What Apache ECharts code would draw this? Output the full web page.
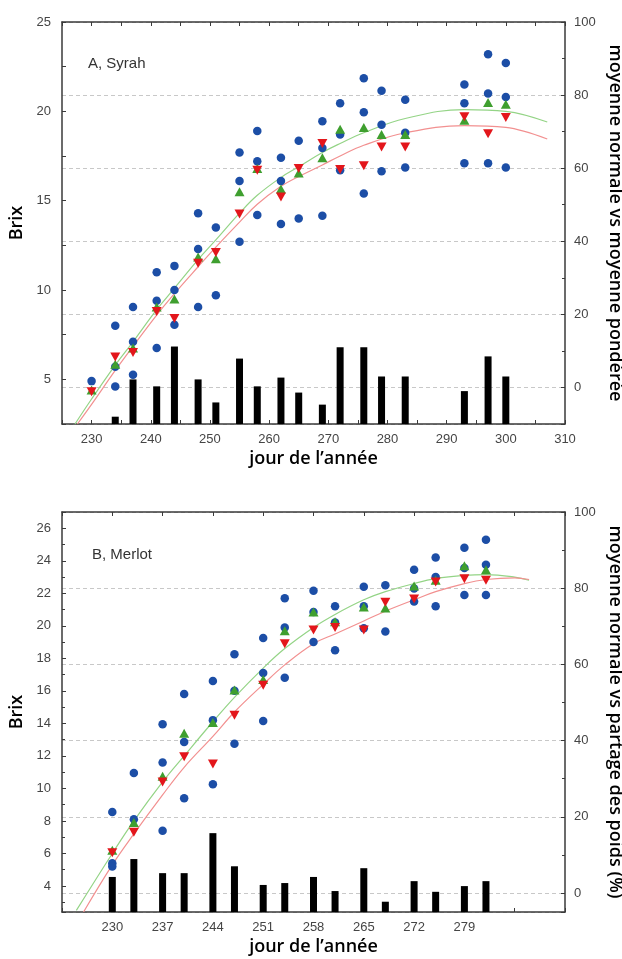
<!DOCTYPE html>
<html><head><meta charset="utf-8">
<script src="https://cdn.jsdelivr.net/npm/echarts@6/dist/echarts.min.js"></script>
<style>html,body{margin:0;padding:0;background:#fff}#c{width:622px;height:959px}</style>
</head><body><div id="c"></div><script>
// ---------- A, Syrah ----------
const syrahDays = [230,234,237,241,244,248,251,255,258,262,265,269,272,276,279,283,293,297,300];
const syrahBlueHigh = [4.9,8.0,9.05,11.0,11.35,14.3,13.5,17.7,18.9,17.4,18.35,19.45,20.45,21.85,21.15,20.65,21.5,23.2,22.7];
const syrahBlueMid = [null,5.7,7.1,9.4,10.0,12.3,null,16.1,17.2,16.1,null,17.95,18.7,19.95,19.25,18.8,20.45,21.0,20.8];
const syrahBlueLow = [null,4.6,5.25,6.75,8.05,9.05,9.7,12.7,14.2,13.7,14.0,14.15,16.7,15.4,16.65,16.85,17.1,17.1,16.85];
const syrahNormal = [4.4,5.85,6.75,9.05,9.5,11.85,11.75,15.5,16.8,15.65,16.55,17.4,19.0,19.1,18.7,18.7,19.5,20.5,20.4];
const syrahWeighted = [4.3,6.25,6.5,8.8,8.4,11.5,12.1,14.25,16.7,15.2,16.8,18.2,16.75,16.95,18.0,18.0,19.7,18.75,19.65];
const syrahBarDays = [234,237,241,244,248,251,255,258,262,265,269,272,276,279,283,293,297,300];
const syrahBars = [-8,2.2,0.3,11.2,2.2,-4.1,7.9,0.3,2.7,-1.4,-4.7,11,11,3,3,-1,8.5,3];
const syrahNormalFitDays = [227.2,230,234,237,241,244,248,251,255,258,262,265,269,272,276,283,293,300,307];
const syrahNormalFit = [2.5,3.9,5.8,7.1,8.9,10.1,11.7,12.8,14.3,15.3,16.3,16.9,17.7,18.2,18.8,19.6,20.1,20.0,19.4];
const syrahWeightedFitDays = [227.6,230,234,237,241,244,248,251,255,258,262,265,269,272,276,283,293,300,307];
const syrahWeightedFit = [2.5,3.6,5.5,6.85,8.6,9.8,11.3,12.4,13.8,14.8,15.8,16.35,17.0,17.5,18.1,18.8,19.2,19.1,18.45];
const syrahXLabels = [230,240,250,260,270,280,290,300,310];
const syrahBrixLabels = [5,10,15,20,25];
const syrahPctLabels = [0,20,40,60,80,100];

// ---------- B, Merlot ----------
const merlotDays = [230,233,237,240,244,247,251,254,258,261,265,268,272,275,279,282];
const merlotBlueHigh = [8.55,10.95,13.95,15.8,16.6,18.25,19.25,21.7,22.15,21.2,22.4,22.5,23.45,24.2,24.8,25.3];
const merlotBlueMid = [5.4,8.1,11.6,12.85,14.2,16.0,17.1,19.9,20.85,20.2,21.2,null,22.3,23.0,23.55,23.75];
const merlotBlueLow = [5.2,null,7.4,9.4,10.25,12.75,14.15,16.8,19.0,18.5,19.85,19.65,21.5,21.2,21.9,21.9];
const merlotNormal = [6.2,7.9,10.75,13.4,14.05,16.05,16.7,19.7,20.85,20.25,21.15,21.1,22.45,22.8,23.7,23.45];
const merlotWeighted = [6.05,7.3,10.4,11.95,11.5,14.5,16.35,18.9,19.75,19.9,19.75,21.45,21.65,22.7,22.9,22.8];
const merlotBars = [4.2,8.9,5.2,5.2,15.7,7.0,2.1,2.6,4.2,0.5,6.5,-2.3,3.1,0.3,1.8,3.1];
const merlotNormalFitDays = [225,230,233,237,240,244,247,251,254,258,261,265,268,272,275,279,282,286,288];
const merlotNormalFit = [2.5,6.0,8.0,10.4,12.0,14.1,15.6,17.4,18.6,19.9,20.7,21.6,22.1,22.6,22.9,23.1,23.15,23.0,22.8];
const merlotWeightedFitDays = [226,230,233,237,240,244,247,251,254,258,261,265,268,272,275,279,282,286,288];
const merlotWeightedFit = [2.4,5.3,7.2,9.6,11.3,13.2,14.7,16.4,17.6,18.9,19.5,20.3,20.9,21.6,22.1,22.6,22.85,22.95,22.85];
const merlotXLabels = [230,237,244,251,258,265,272,279];
const merlotBrixLabels = [4,6,8,10,12,14,16,18,20,22,24,26];
const merlotPctLabels = [0,20,40,60,80,100];

// ---------- helpers ----------
const AX = '#3a3a3a';
const LBL = {color:'#454545', fontSize:13, fontFamily:'Liberation Sans'};
const NAME = {color:'#000', fontSize:18, fontWeight:600, fontFamily:'Open Sans'};
const pairs = (xs, ys) => xs.map((x,i)=>[x, ys[i]]).filter(p => p[1] !== null && p[1] !== undefined);
const pick = list => v => list.some(l => Math.abs(l - v) < 1e-6) ? String(Math.round(v)) : '';

function xAxesFor(grid, min, max, interval, labels) {
  const common = {type:'value', gridIndex:grid, min, max, interval,
    axisLine:{show:true, onZero:false, lineStyle:{color:AX, width:1.5}},
    axisTick:{show:true, inside:true, length:4, lineStyle:{color:AX}},
    splitLine:{show:false}};
  return [
    Object.assign({}, common, {position:'bottom',
      axisLabel:Object.assign({}, LBL, {margin:9, formatter:pick(labels)}),
      name:'jour de l’année', nameLocation:'middle', nameGap:26, nameTextStyle:NAME}),
    Object.assign({}, common, {position:'top', axisLabel:{show:false}})
  ];
}
function leftAxis(grid, min, max, extra, labels) {
  return Object.assign({type:'value', gridIndex:grid, position:'left', min, max,
    axisLine:{show:true, onZero:false, lineStyle:{color:AX, width:1.5}},
    axisTick:{show:true, inside:true, length:4, lineStyle:{color:AX}},
    axisLabel:Object.assign({}, LBL, {margin:11, formatter:pick(labels)}),
    splitLine:{show:false},
    name:'Brix', nameLocation:'middle', nameGap:29, nameRotate:90, nameTextStyle:NAME}, extra);
}
function rightAxis(grid, min, max, labels, name) {
  return {type:'value', gridIndex:grid, position:'right', min, max, minInterval:20, maxInterval:20, splitNumber:5,
    axisLine:{show:true, onZero:false, lineStyle:{color:AX, width:1.5}},
    axisTick:{show:true, inside:true, length:4, lineStyle:{color:AX}},
    minorTick:{show:true, splitNumber:2, length:3, lineStyle:{color:AX}},
    axisLabel:Object.assign({}, LBL, {margin:9, formatter:pick(labels)}),
    splitLine:{show:true, lineStyle:{color:'#c8c8c8', width:1, type:[4,3]}},
    name, nameLocation:'middle', nameGap:37, nameRotate:-90, nameTextStyle:NAME};
}
function barSeries(xi, yi, days, vals, base, w) {
  return {type:'custom', xAxisIndex:xi, yAxisIndex:yi, data:pairs(days, vals), encode:{x:0, y:1}, z:2,
    renderItem(params, api) {
      const top = api.coord([api.value(0), api.value(1)]);
      const bot = api.coord([api.value(0), base]);
      return {type:'rect', shape:{x:top[0]-w/2, y:top[1], width:w, height:bot[1]-top[1]}, style:{fill:'#000'}};
    }};
}
function fitLine(xi, yi, days, vals, color) {
  return {type:'line', xAxisIndex:xi, yAxisIndex:yi, data:pairs(days, vals), smooth:0.4, symbol:'none',
    lineStyle:{color, width:1.2}, z:3, silent:true};
}
function dots(xi, yi, days, lists) {
  let d = [];
  lists.forEach(l => { d = d.concat(pairs(days, l)); });
  return {type:'scatter', xAxisIndex:xi, yAxisIndex:yi, data:d, symbol:'circle', symbolSize:8.5,
    itemStyle:{color:'#1c4ea6', opacity:1}, z:4};
}
function tri(xi, yi, days, vals, color, rot) {
  return {type:'scatter', xAxisIndex:xi, yAxisIndex:yi, data:pairs(days, vals), symbol:'triangle',
    symbolSize:[10,9], symbolRotate:rot, itemStyle:{color, opacity:1}, z:5};
}

const GREEN = '#3f9f2f', RED = '#e3161b', GFIT = '#94d486', RFIT = '#f29090';
const syrahPctMin = -10, merlotPctMin = -5;

const option = {
  animation:false,
  backgroundColor:'#fff',
  title:[
    {text:'A, Syrah', left:83, top:51, textStyle:{color:'#333', fontSize:15, fontWeight:'normal', fontFamily:'Liberation Sans'}},
    {text:'B, Merlot', left:87, top:542, textStyle:{color:'#333', fontSize:15, fontWeight:'normal', fontFamily:'Liberation Sans'}}
  ],
  grid:[
    {left:62, top:22, width:503, height:402, containLabel:false, outerBoundsMode:'none'},
    {left:62, top:512, width:503, height:400, containLabel:false, outerBoundsMode:'none'}
  ],
  xAxis:[].concat(
    xAxesFor(0, 225, 310, 5, syrahXLabels),
    xAxesFor(1, 223, 293, 7, merlotXLabels)
  ),
  yAxis:[
    leftAxis(0, 2.5, 25, {interval:2.5}, syrahBrixLabels),
    rightAxis(0, syrahPctMin, 100, syrahPctLabels, 'moyenne normale vs moyenne pondérée'),
    leftAxis(1, 2.4, 27, {minInterval:2, maxInterval:2, splitNumber:12,
      minorTick:{show:true, splitNumber:2, length:3, lineStyle:{color:AX}}}, merlotBrixLabels),
    rightAxis(1, merlotPctMin, 100, merlotPctLabels, 'moyenne normale vs partage des poids (%)')
  ],
  series:[
    barSeries(0, 1, syrahBarDays, syrahBars, syrahPctMin, 7),
    fitLine(0, 0, syrahNormalFitDays, syrahNormalFit, GFIT),
    fitLine(0, 0, syrahWeightedFitDays, syrahWeightedFit, RFIT),
    dots(0, 0, syrahDays, [syrahBlueHigh, syrahBlueMid, syrahBlueLow]),
    tri(0, 0, syrahDays, syrahNormal, GREEN, 0),
    tri(0, 0, syrahDays, syrahWeighted, RED, 180),

    barSeries(2, 3, merlotDays, merlotBars, merlotPctMin, 7),
    fitLine(2, 2, merlotNormalFitDays, merlotNormalFit, GFIT),
    fitLine(2, 2, merlotWeightedFitDays, merlotWeightedFit, RFIT),
    dots(2, 2, merlotDays, [merlotBlueHigh, merlotBlueMid, merlotBlueLow]),
    tri(2, 2, merlotDays, merlotNormal, GREEN, 0),
    tri(2, 2, merlotDays, merlotWeighted, RED, 180)
  ]
};
echarts.init(document.getElementById('c'), null, {renderer:'canvas'}).setOption(option);
</script></body></html>
